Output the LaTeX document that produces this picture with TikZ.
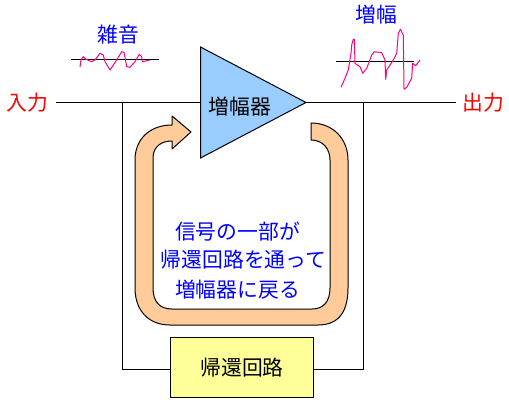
\documentclass[tikz,border=0pt]{standalone}
\usepackage{fontspec}
\setmainfont{Noto Sans CJK JP}
\tikzset{
  wire/.style={draw=black,line width=0.75pt},
  signal/.style={draw=sigpink,line width=0.75pt,line join=round},
  band/.style={draw=black,fill=bandorange,line width=0.75pt,line join=round},
  jtext/.style={font=\fontsize{15.6pt}{18pt}\selectfont,inner sep=0pt},
}
\definecolor{sigpink}{HTML}{FF0080}
\definecolor{bandorange}{HTML}{FFCC99}
\definecolor{ampblue}{HTML}{99CCFF}
\definecolor{boxyellow}{HTML}{FFFF99}
\begin{document}
\begin{tikzpicture}[x=0.75pt,y=-0.75pt]
\useasboundingbox (0,0) rectangle (509,402);
% coordinates
\coordinate (inEnd) at (56,102.5);
\coordinate (outEnd) at (456,102.5);
\coordinate (ampW) at (200.5,102.5);
\coordinate (ampE) at (306,102.5);
\coordinate (jl) at (122.5,102.5);
\coordinate (jr) at (363.5,102.5);
\coordinate (cl) at (122.5,369.5);
\coordinate (cr) at (363.5,369.5);
% feedback box
\node[draw=black,line width=0.75pt,fill=boxyellow,minimum width=143*0.75pt,minimum height=60*0.75pt,inner sep=0pt,jtext] (fb) at (242,367.5) {帰還回路};
% wires
\draw[wire] (inEnd) -- (ampW);
\draw[wire] (ampE) -- (outEnd);
\draw[wire] (jl) -- (cl) -- (cl -| fb.west);
\draw[wire] (jr) -- (cr) -- (cr -| fb.east);
% amplifier
\draw[wire,fill=ampblue,line join=miter] (200.5,47) -- (ampE) -- (200.5,158) -- cycle;
\node[jtext] (amp) at (240,107) {増幅器};
% feedback band
\draw[band] (311,123)
  .. controls (333,123) and (348,139) .. (348,160)
  -- (348,288)
  .. controls (348,310) and (340,325) .. (318,325)
  -- (170,325)
  .. controls (148,325) and (135,310) .. (135,288)
  -- (135,160)
  .. controls (135,139) and (150,125) .. (172,125)
  -- (172,116) -- (191,132) -- (172,149) -- (172,141)
  .. controls (162,141) and (153,146) .. (153,158)
  -- (153,288)
  .. controls (153,302) and (160,309) .. (172,309)
  -- (312,309)
  .. controls (323,309) and (330,302) .. (330,288)
  -- (330,160)
  .. controls (330,149) and (323,140) .. (311,140)
  -- cycle;
% labels
\node[jtext,text=red] (inL) at (27.5,103) {入力};
\node[jtext,text=red] (outL) at (483.5,103) {出力};
\node[jtext,text=blue] (noiseL) at (118,35) {雑音};
\node[jtext,text=blue] (gainL) at (376,15) {増幅};
\node[jtext,text=blue] (t1) at (237.5,232) {信号の一部が};
\node[jtext,text=blue] (t2) at (243.5,260) {帰還回路を通って};
\node[jtext,text=blue] (t3) at (237.5,290) {増幅器に戻る};
% noise signal
\draw[wire] (71,59.5) -- (159,59.5);
\draw[signal] (80,67) -- (81,60) -- (83.3,56.7) -- (86,59.3) -- (91.7,61.7) -- (95,60) -- (100,53.3) -- (103.3,55) -- (105,61.7) -- (110,70) -- (116.7,60) -- (121.7,51.7) -- (124,52.3) -- (126.7,66.7) -- (130,67.3) -- (135,61.7) -- (139.3,54.3) -- (141.7,56.7) -- (142.3,61.7) -- (150,60);
% gain signal
\draw[wire] (336,61.5) -- (414,61.5);
\draw[signal] (341,87.3) -- (345,78.3) -- (348.3,70) -- (351,53.3) -- (351.7,45) -- (353.3,39.3) -- (354.3,39.3) -- (355,63.3) -- (360,66.7) -- (362.7,73.3) -- (366.7,68.3) -- (371.7,55) -- (374.3,51.7) -- (381.7,52.7) -- (385,60) -- (385.7,79.3) -- (386.7,70) -- (393.3,60) -- (396.7,53.3) -- (398.3,33.3) -- (400.3,29.3) -- (403.3,35) -- (404,89.3) -- (406.7,87.3) -- (411.7,78.3) -- (412.7,63.3) -- (415.7,65.7) -- (420,60);
\end{tikzpicture}
\end{document}
